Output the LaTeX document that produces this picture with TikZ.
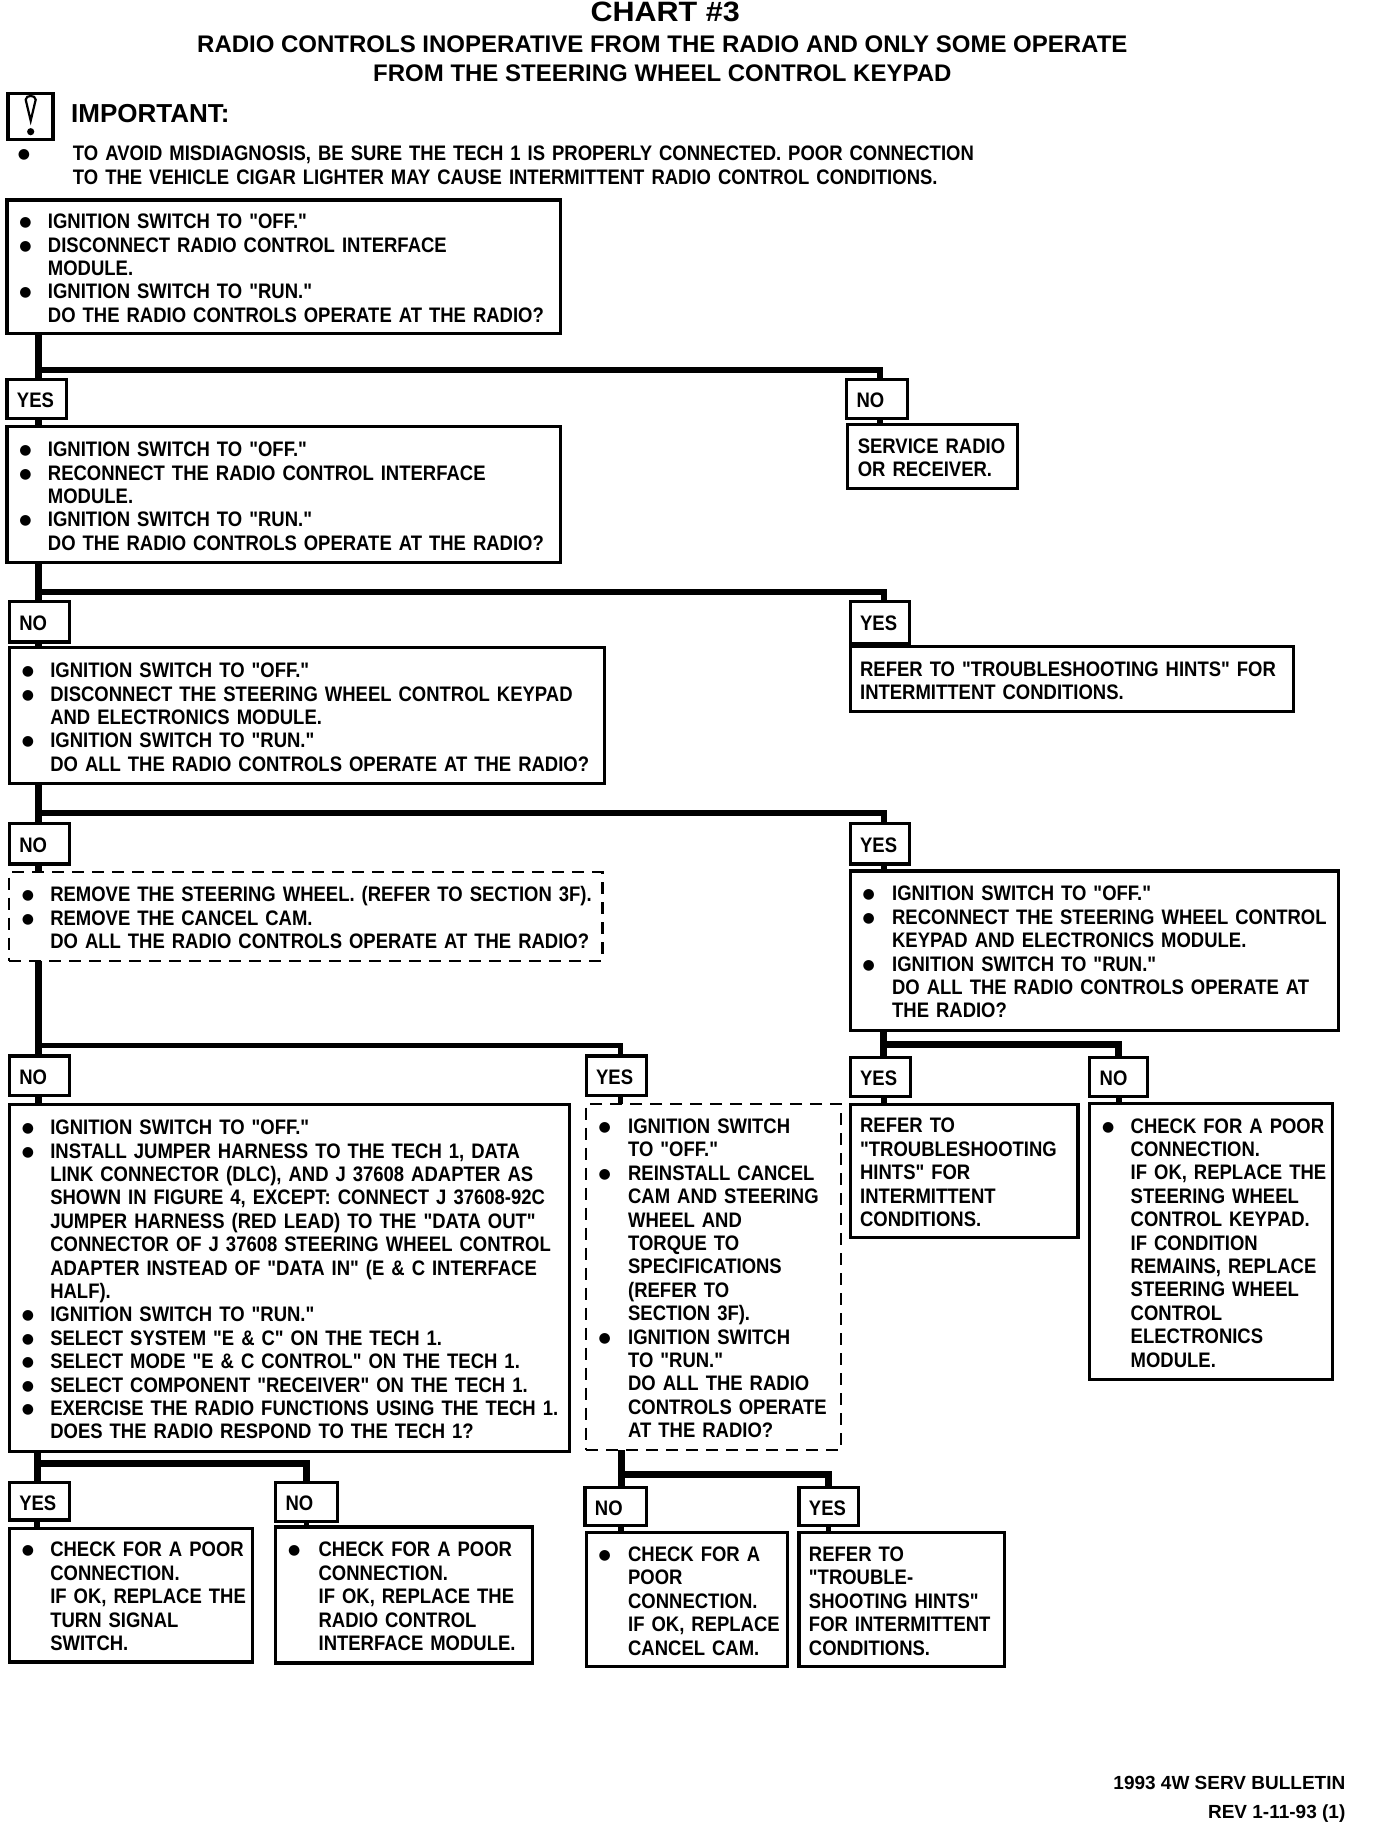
\documentclass[tikz,border=0pt]{standalone}
\usepackage{fontspec}
\newfontfamily\bodyf[FakeStretch=0.88]{Liberation Sans Bold}
\newfontfamily\titlef{Liberation Sans Bold}
\newfontfamily\chartf[FakeStretch=1.09]{Liberation Sans Bold}
\newfontfamily\djf{DejaVu Sans}
\newlength\ind
\newcommand\bul{\hspace*{0.5pt}\raisebox{2pt}{\fontsize{14}{14}\djf ●}}
\newcommand\Lb[1]{\par\noindent\hbox{\makebox[\ind][l]{\bul}#1}\par}
\newcommand\Ln[1]{\par\noindent\hbox{\hspace*{\ind}#1}\par}
\tikzset{
  boxed/.style={draw=black,line width=3.2pt},
  dashbox/.style={draw=black,line width=2.2pt,dash pattern=on 12pt off 8pt},
  plain/.style={draw=none},
  trunk/.style={line width=7pt,black},
  bar/.style={line width=5.5pt,black},
  shortbar/.style={line width=7pt,black},
}
% style, name, x0,y0,x1,y1 (chart units), pad (pt), indent (pt), lines
\newcommand\bx[9]{%
  \pgfmathsetlengthmacro\bw{(#5-#3)*1.163}%
  \pgfmathsetlengthmacro\bh{(#6-#4)*1.163}%
  \setlength\ind{#8pt}%
  \node[#1,anchor=north west,outer sep=0pt,inner ysep=0pt,inner xsep=#7pt,align=left,
        minimum width=\bw,minimum height=\bh,text width=\bw-#7pt-#7pt,
        font=\bodyf\fontsize{21}{23.4}\selectfont] (#2) at (#3,#4) {#9\par\vskip6pt\nointerlineskip\hbox{}};}
\newcommand\tagbox[6]{\bx{boxed}{#1}{#2}{#3}{#4}{#5}{10}{0}{\Ln{#6}}}
\begin{document}
\begin{tikzpicture}[x=1.163pt,y=-1.163pt]
\useasboundingbox (0,0) rectangle (1183.15,1568.4);
% titles
\node[font=\chartf\fontsize{28}{28}\selectfont,inner sep=0pt] (chart) at (572,10) {CHART \#3};
\node[font=\titlef\fontsize{24}{29}\selectfont,inner sep=0pt,align=center] (title) at (569.5,50.5)
  {RADIO CONTROLS INOPERATIVE FROM THE RADIO AND ONLY SOME OPERATE\\FROM THE STEERING WHEEL CONTROL KEYPAD};
% important
\node[draw=black,line width=3.6pt,anchor=north west,inner sep=0pt,minimum width=45pt,minimum height=46pt] (icon) at (5.5,79) {};
\draw[line width=2.2pt] ([xshift=-5pt,yshift=17pt]icon.center) .. controls ([xshift=-5pt,yshift=22pt]icon.center) and ([xshift=5pt,yshift=22pt]icon.center) .. ([xshift=5pt,yshift=17pt]icon.center) -- ([yshift=-4pt]icon.center) -- cycle;
\fill ([yshift=-15pt]icon.center) circle (3.6pt);
\node[font=\titlef\fontsize{26}{26}\selectfont,anchor=west,inner sep=0pt] (imp) at (61,97.5) {IMPORTANT:};
\bx{plain}{note}{15}{118}{900}{160}{0}{55.5}{\Lb{TO AVOID MISDIAGNOSIS, BE SURE THE TECH 1 IS PROPERLY CONNECTED.  POOR CONNECTION}\Ln{TO THE VEHICLE CIGAR LIGHTER MAY CAUSE INTERMITTENT RADIO CONTROL CONDITIONS.}}
% box 1
\bx{boxed}{b1}{6}{172}{482}{287}{12}{29}{\Lb{IGNITION SWITCH TO "OFF."}\Lb{DISCONNECT RADIO CONTROL INTERFACE}\Ln{MODULE.}\Lb{IGNITION SWITCH TO "RUN."}\Ln{DO THE RADIO CONTROLS OPERATE AT THE RADIO?}}
\tagbox{y1}{6}{326}{57}{360}{YES}
\tagbox{n1}{728}{326}{780}{360}{NO}
\bx{boxed}{b2}{6}{367}{482}{484}{12}{29}{\Lb{IGNITION SWITCH TO "OFF."}\Lb{RECONNECT THE RADIO CONTROL INTERFACE}\Ln{MODULE.}\Lb{IGNITION SWITCH TO "RUN."}\Ln{DO THE RADIO CONTROLS OPERATE AT THE RADIO?}}
\bx{boxed}{r1}{729}{365}{875}{420}{10}{0}{\Ln{SERVICE RADIO}\Ln{OR RECEIVER.}}
% level 2
\tagbox{n2}{8}{517}{60}{552}{NO}
\tagbox{y2}{731}{517}{782}{553}{YES}
\bx{boxed}{b3}{8}{557}{520}{674}{12}{29}{\Lb{IGNITION SWITCH TO "OFF."}\Lb{DISCONNECT THE STEERING WHEEL CONTROL KEYPAD}\Ln{AND ELECTRONICS MODULE.}\Lb{IGNITION SWITCH TO "RUN."}\Ln{DO ALL THE RADIO CONTROLS OPERATE AT THE RADIO?}}
\bx{boxed}{r2}{731}{556}{1112}{612}{10}{0}{\Ln{REFER TO "TROUBLESHOOTING HINTS" FOR}\Ln{INTERMITTENT CONDITIONS.}}
% level 3
\tagbox{n3}{8}{708}{60}{743}{NO}
\tagbox{y3}{731}{708}{782}{743}{YES}
\bx{dashbox}{b4}{8}{750}{518}{826}{12}{29}{\Lb{REMOVE THE STEERING WHEEL.  (REFER TO SECTION 3F).}\Lb{REMOVE THE CANCEL CAM.}\Ln{DO ALL THE RADIO CONTROLS OPERATE AT THE RADIO?}}
\bx{boxed}{r3}{731}{749}{1151}{886}{12}{30}{\Lb{IGNITION SWITCH TO "OFF."}\Lb{RECONNECT THE STEERING WHEEL CONTROL}\Ln{KEYPAD AND ELECTRONICS MODULE.}\Lb{IGNITION SWITCH TO "RUN."}\Ln{DO ALL THE RADIO CONTROLS OPERATE AT}\Ln{THE RADIO?}}
% level 4
\tagbox{n4}{8}{908}{60}{942}{NO}
\tagbox{y4}{504}{908}{556}{942}{YES}
\tagbox{y5}{731}{909}{783}{943}{YES}
\tagbox{n5}{937}{909}{987}{943}{NO}
\bx{boxed}{b5}{8}{950}{490}{1248}{12}{29}{\Lb{IGNITION SWITCH TO "OFF."}\Lb{INSTALL JUMPER HARNESS TO THE TECH 1, DATA}\Ln{LINK CONNECTOR (DLC), AND J 37608 ADAPTER AS}\Ln{SHOWN IN FIGURE 4, EXCEPT: CONNECT J 37608-92C}\Ln{JUMPER HARNESS (RED LEAD) TO THE "DATA OUT"}\Ln{CONNECTOR OF J 37608 STEERING WHEEL CONTROL}\Ln{ADAPTER INSTEAD OF "DATA IN" (E \& C INTERFACE}\Ln{HALF).}\Lb{IGNITION SWITCH TO "RUN."}\Lb{SELECT SYSTEM "E \& C" ON THE TECH 1.}\Lb{SELECT MODE "E \& C CONTROL" ON THE TECH 1.}\Lb{SELECT COMPONENT "RECEIVER" ON THE TECH 1.}\Lb{EXERCISE THE RADIO FUNCTIONS USING THE TECH 1.}\Ln{DOES THE RADIO RESPOND TO THE TECH 1?}}
\bx{dashbox}{d2}{504}{949}{723}{1247}{12}{30}{\Lb{IGNITION SWITCH}\Ln{TO "OFF."}\Lb{REINSTALL CANCEL}\Ln{CAM AND STEERING}\Ln{WHEEL AND}\Ln{TORQUE TO}\Ln{SPECIFICATIONS}\Ln{(REFER TO}\Ln{SECTION 3F).}\Lb{IGNITION SWITCH}\Ln{TO "RUN."}\Ln{DO ALL THE RADIO}\Ln{CONTROLS OPERATE}\Ln{AT THE RADIO?}}
\bx{boxed}{r4}{731}{950}{927}{1064}{10}{0}{\Ln{REFER TO}\Ln{"TROUBLESHOOTING}\Ln{HINTS" FOR}\Ln{INTERMITTENT}\Ln{CONDITIONS.}}
\bx{boxed}{r5}{937}{949}{1146}{1186}{12}{29}{\Lb{CHECK FOR A POOR}\Ln{CONNECTION.}\Ln{IF OK, REPLACE THE}\Ln{STEERING WHEEL}\Ln{CONTROL KEYPAD.}\Ln{IF CONDITION}\Ln{REMAINS, REPLACE}\Ln{STEERING WHEEL}\Ln{CONTROL}\Ln{ELECTRONICS}\Ln{MODULE.}}
% level 5
\tagbox{y6}{8}{1275}{60}{1307}{YES}
\tagbox{n6}{237}{1275}{290}{1308}{NO}
\tagbox{n7}{503}{1279}{556}{1312}{NO}
\tagbox{y7}{687}{1279}{738}{1312}{YES}
\bx{boxed}{e1}{8}{1314}{217}{1429}{12}{29}{\Lb{CHECK FOR A POOR}\Ln{CONNECTION.}\Ln{IF OK, REPLACE THE}\Ln{TURN SIGNAL}\Ln{SWITCH.}}
\bx{boxed}{e2}{237}{1313}{458}{1430}{12}{31}{\Lb{CHECK FOR A POOR}\Ln{CONNECTION.}\Ln{IF OK, REPLACE THE}\Ln{RADIO CONTROL}\Ln{INTERFACE MODULE.}}
\bx{boxed}{e3}{504}{1318}{677}{1433}{12}{30}{\Lb{CHECK FOR A}\Ln{POOR}\Ln{CONNECTION.}\Ln{IF OK, REPLACE}\Ln{CANCEL CAM.}}
\bx{boxed}{e4}{687}{1318}{864}{1433}{10}{0}{\Ln{REFER TO}\Ln{"TROUBLE-}\Ln{SHOOTING HINTS"}\Ln{FOR INTERMITTENT}\Ln{CONDITIONS.}}
% footer
\node[font=\titlef\fontsize{19}{19}\selectfont,anchor=east,inner sep=0pt] (f1) at (1157,1533) {1993 4W SERV BULLETIN};
\node[font=\titlef\fontsize{19}{19}\selectfont,anchor=east,inner sep=0pt] (f2) at (1157,1559) {REV 1-11-93 (1)};
% connectors
\coordinate (j1) at (33,318);
\coordinate (j2) at (33,509);
\coordinate (j3) at (33,699);
\coordinate (j4) at (33,899);
\coordinate (j5) at (760,898);
\coordinate (j6) at (32,1258);
\coordinate (j7) at (534,1268);
\draw[trunk] (b1.south -| j1) -- (y1.north -| j1);
\draw[bar] (j1) -| ([xshift=3pt]n1.north);
\draw[bar] ([xshift=3pt]n1.south) -- ([xshift=3pt]n1.south |- r1.north);
\draw[trunk] (y1.south -| j1) -- (b2.north -| j1);
\draw[trunk] (b2.south -| j2) -- (n2.north -| j2);
\draw[bar] (j2) -| ([xshift=4pt]y2.north);
\draw[bar] ([xshift=4pt]y2.south) -- ([xshift=4pt]y2.south |- r2.north);
\draw[trunk] (n2.south -| j2) -- (b3.north -| j2);
\draw[trunk] (b3.south -| j3) -- (n3.north -| j3);
\draw[bar] (j3) -| ([xshift=4pt]y3.north);
\draw[bar] ([xshift=4pt]y3.south) -- ([xshift=4pt]y3.south |- r3.north);
\draw[trunk] (n3.south -| j3) -- (b4.north -| j3);
\draw[trunk] (b4.south -| j4) -- (n4.north -| j4);
\draw[bar] (j4) -| ([xshift=4pt]y4.north);
\draw[trunk] (n4.south -| j4) -- (b5.north -| j4);
\draw[bar] ([xshift=4pt]y4.south) -- ([xshift=4pt]y4.south |- d2.north);
\draw[trunk] (r3.south -| j5) -- (y5.north -| j5);
\draw[shortbar] (j5) -| (n5.north);
\draw[bar] (y5.south -| j5) -- (r4.north -| j5);
\draw[bar] (n5.south) -- (n5.south |- r5.north);
\draw[trunk] (b5.south -| j6) -- (y6.north -| j6);
\draw[shortbar] (j6) -| (n6.north);
\draw[bar] (y6.south -| j6) -- (e1.north -| j6);
\draw[bar] (n6.south) -- (n6.south |- e2.north);
\draw[trunk] (d2.south -| j7) -- (n7.north -| j7);
\draw[shortbar] (j7) -| (y7.north);
\draw[bar] (n7.south -| j7) -- (e3.north -| j7);
\draw[bar] (y7.south) -- (y7.south |- e4.north);
\end{tikzpicture}
\end{document}
